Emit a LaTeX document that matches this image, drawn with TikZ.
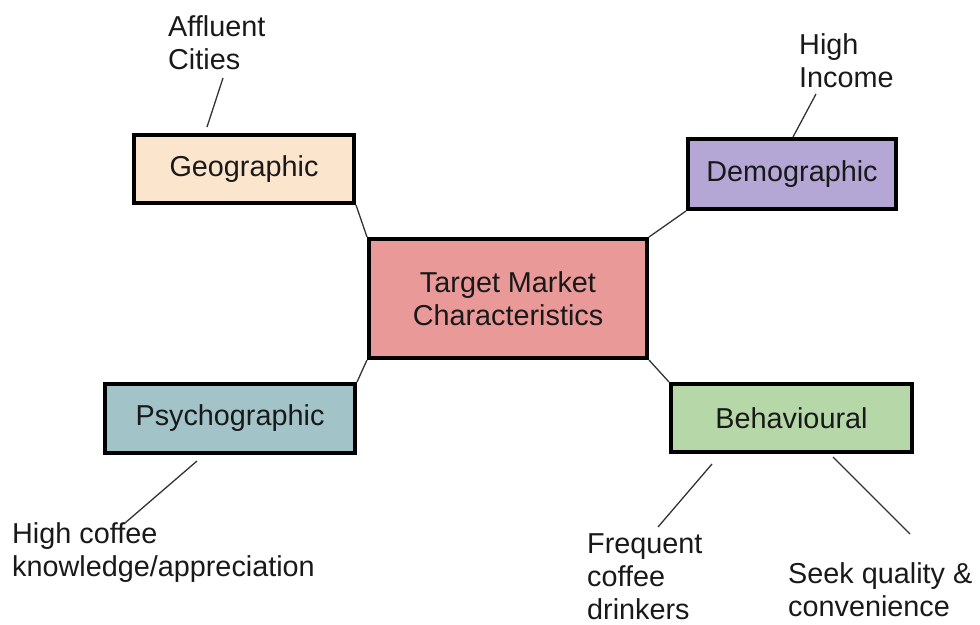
\documentclass[tikz,border=0pt]{standalone}
\usepackage{fontspec}
\setmainfont{Liberation Sans}
\definecolor{marketFill}{HTML}{EA9999}
\definecolor{geoFill}{HTML}{FCE5CD}
\definecolor{demoFill}{HTML}{B4A7D6}
\definecolor{psychoFill}{HTML}{A2C4C9}
\definecolor{behavFill}{HTML}{B6D7A8}
\begin{document}
\begin{tikzpicture}[x=1pt, y=-1pt]
% Segmentation map laid out in pixel units (y grows downwards)
\def\boxlw{4pt}
\providecommand{\mapTextColor}{black!90}
\providecommand{\mapLinkColor}{black!80}
\useasboundingbox (0,0) rectangle (980,624);
\begin{scope}[font=\fontsize{28.8}{33}\selectfont, text=\mapTextColor,
  segment/.style={draw=black, fill=#1, line width=\boxlw, inner sep=0pt, align=center},
  note/.style={anchor=base west, align=left, inner sep=0pt},
  link/.style={draw=\mapLinkColor, line width=1.3pt}]
  % Boxes
  \node[segment=marketFill, minimum width=278pt, minimum height=119pt] (market) at (508,298.5) {Target Market\\Characteristics};
  \node[segment=geoFill, minimum width=220pt, minimum height=68pt] (geo) at (244,169) {Geographic};
  \node[segment=demoFill, minimum width=208pt, minimum height=70pt] (demo) at (792,174) {Demographic};
  \node[segment=psychoFill, minimum width=250pt, minimum height=69pt] (psycho) at (230,418.5) {Psychographic};
  \node[segment=behavFill, minimum width=241pt, minimum height=68pt] (behav) at (791.5,418) {Behavioural};
  % Notes (placed by the baseline of their last line)
  \node[note] (cities) at (168,69) {Affluent\\Cities};
  \node[note] (income) at (799,87) {High\\Income};
  \node[note] (knowledge) at (12,576) {High coffee\\knowledge/appreciation};
  \node[note] (drinkers) at (587,619) {Frequent\\coffee\\drinkers};
  \node[note] (quality) at (788,616) {Seek quality \&\\convenience};
  % Free ends of the note lines
  \coordinate (geoTop) at (207,127);
  \coordinate (citiesFoot) at (223,78);
  \coordinate (demoTop) at (793,137);
  \coordinate (incomeFoot) at (816,94);
  \coordinate (psychoFoot) at (197,461);
  \coordinate (knowledgeTop) at (125,523);
  \coordinate (behavFootL) at (712,464);
  \coordinate (drinkersTop) at (658,527);
  \coordinate (behavFootR) at (833,457);
  \coordinate (qualityTop) at (910,534);
  % Links from the centre
  \draw[link] (geo.south east) -- (market.north west);
  \draw[link] (demo.south west) -- (market.north east);
  \draw[link] (psycho.north east) -- (market.south west);
  \draw[link] (behav.north west) -- (market.south east);
  % Links to the notes
  \draw[link] (geoTop) -- (citiesFoot);
  \draw[link] (demoTop) -- (incomeFoot);
  \draw[link] (psychoFoot) -- (knowledgeTop);
  \draw[link] (behavFootL) -- (drinkersTop);
  \draw[link] (behavFootR) -- (qualityTop);
\end{scope}
\end{tikzpicture}
\end{document}
